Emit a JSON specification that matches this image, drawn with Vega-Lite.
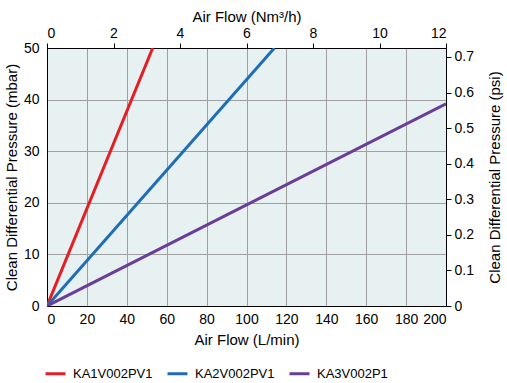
{
  "$schema": "https://vega.github.io/schema/vega-lite/v6.json",
  "autosize": "none",
  "width": 399,
  "height": 258,
  "padding": {"left": 47, "top": 48, "right": 61, "bottom": 77},
  "background": "white",
  "config": {
    "font": "Liberation Sans",
    "view": {"fill": "#e8f1f2", "stroke": "black", "strokeWidth": 1},
    "axis": {
      "labelFont": "Liberation Sans",
      "titleFont": "Liberation Sans",
      "labelFontSize": 14,
      "titleFontSize": 15,
      "titleFontWeight": "normal",
      "labelColor": "black",
      "titleColor": "black",
      "domainColor": "black",
      "tickColor": "black",
      "gridColor": "#a0a0a0",
      "gridWidth": 1
    },
    "legend": {"labelFont": "Liberation Sans", "labelFontSize": 13, "labelColor": "black"}
  },
  "layer": [
    {
      "data": {
        "values": [
          {"series": "KA1V002PV1", "flow": 0, "mbar": 0},
          {"series": "KA1V002PV1", "flow": 53, "mbar": 50},
          {"series": "KA2V002PV1", "flow": 0, "mbar": 0},
          {"series": "KA2V002PV1", "flow": 114, "mbar": 50},
          {"series": "KA3V002P1", "flow": 0, "mbar": 0},
          {"series": "KA3V002P1", "flow": 200, "mbar": 39.2}
        ]
      },
      "mark": {"type": "line", "strokeWidth": 3, "clip": true},
      "encoding": {
        "x": {
          "field": "flow", "type": "quantitative",
          "scale": {"domain": [0, 200], "nice": false},
          "axis": {"orient": "bottom", "title": "Air Flow (L/min)", "values": [0, 20, 40, 60, 80, 100, 120, 140, 160, 180, 200], "grid": true, "ticks": false, "labelPadding": 6, "titlePadding": 6}
        },
        "y": {
          "field": "mbar", "type": "quantitative",
          "scale": {"domain": [0, 50], "nice": false},
          "axis": {"orient": "left", "title": "Clean Differential Pressure (mbar)", "values": [0, 10, 20, 30, 40, 50], "grid": true, "ticks": false, "labelPadding": 8, "titlePadding": 4}
        },
        "color": {
          "field": "series", "type": "nominal",
          "scale": {"domain": ["KA1V002PV1", "KA2V002PV1", "KA3V002P1"], "range": ["#e31e24", "#1f6eb5", "#6a3d98"]},
          "legend": {"title": null, "orient": "none", "direction": "horizontal", "legendX": -3, "legendY": 314, "symbolType": "stroke", "symbolSize": 400, "symbolStrokeWidth": 3, "labelOffset": 6, "columnPadding": 8}
        }
      }
    },
    {
      "data": {"values": [{"nm": 0}, {"nm": 12}]},
      "mark": {"type": "point", "opacity": 0},
      "encoding": {
        "x": {
          "field": "nm", "type": "quantitative",
          "scale": {"domain": [0, 12], "nice": false},
          "axis": {"orient": "top", "title": "Air Flow (Nm³/h)", "values": [0, 2, 4, 6, 8, 10, 12], "grid": false, "ticks": true, "tickSize": 5, "labelPadding": 3, "titlePadding": 2}
        }
      }
    },
    {
      "data": {"values": [{"psi": 0}, {"psi": 0.7252}]},
      "mark": {"type": "point", "opacity": 0},
      "encoding": {
        "y": {
          "field": "psi", "type": "quantitative",
          "scale": {"domain": [0, 0.7252], "nice": false},
          "axis": {"orient": "right", "title": "Clean Differential Pressure (psi)", "titleAngle": 270, "titleBaseline": "top", "values": [0, 0.1, 0.2, 0.3, 0.4, 0.5, 0.6, 0.7], "format": "~g", "grid": false, "ticks": true, "tickSize": 5, "labelPadding": 3, "titlePadding": 14}
        }
      }
    }
  ],
  "resolve": {"scale": {"x": "independent", "y": "independent"}}
}
